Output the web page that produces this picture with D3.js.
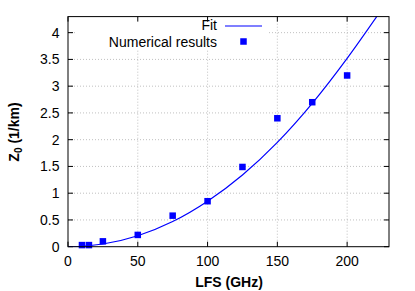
<!DOCTYPE html>
<html>
<head>
<meta charset="utf-8">
<script src="https://cdn.jsdelivr.net/npm/d3@7"></script>
<style>
  body { margin: 0; background: #fff; }
  text { font-family: "Liberation Sans", Arial, sans-serif; }
</style>
</head>
<body>
<div id="chart"></div>
<script>
// Numerical results (LFS in GHz, Z0 in 1/km)
const lfs = [10, 15, 25, 50, 75, 100, 125, 150, 175, 200];
const z0 = [0.03, 0.03, 0.10, 0.22, 0.58, 0.85, 1.49, 2.40, 2.70, 3.20];

// Fit curve
const fitX = [0, 10, 25, 50, 75, 100, 125, 150, 175, 200, 222];
const fitY = [0, 0.008, 0.05, 0.205, 0.47, 0.85, 1.34, 1.95, 2.68, 3.52, 4.33];

const xTicks = [0, 50, 100, 150, 200];
const yTicks = [0, 0.5, 1, 1.5, 2, 2.5, 3, 3.5, 4];

const width = 415, height = 291;
const plotL = 68, plotR = 389, plotT = 16.6, plotB = 246.7;
const fs = 14;

const svg = d3.select("#chart").append("svg")
  .attr("width", width)
  .attr("height", height);

const x = d3.scaleLinear().domain([0, 230]).range([plotL, plotR]);
const y = d3.scaleLinear().domain([0, 4.3]).range([plotB, plotT]);

// Grid lines (dotted)
const grid = svg.append("g")
  .attr("stroke", "#b0b0b0")
  .attr("stroke-width", 0.8)
  .attr("stroke-dasharray", "1,2");
grid.selectAll(".gx").data(xTicks.slice(1)).enter().append("line")
  .attr("x1", d => x(d)).attr("x2", d => x(d))
  .attr("y1", plotB).attr("y2", plotT);
grid.selectAll(".gy").data(yTicks.slice(1)).enter().append("line")
  .attr("x1", plotL).attr("x2", plotR)
  .attr("y1", d => y(d)).attr("y2", d => y(d));

// Key area is opaque
svg.append("rect")
  .attr("x", 76).attr("y", 18)
  .attr("width", 191).attr("height", 32)
  .attr("fill", "#fff");

// Ticks on all four sides, pointing inwards
const tl = 5;
const ticks = svg.append("g").attr("stroke", "#000").attr("stroke-width", 1);
xTicks.forEach(d => {
  ticks.append("line").attr("x1", x(d)).attr("x2", x(d)).attr("y1", plotB).attr("y2", plotB - tl);
  ticks.append("line").attr("x1", x(d)).attr("x2", x(d)).attr("y1", plotT).attr("y2", plotT + tl);
});
yTicks.forEach(d => {
  ticks.append("line").attr("x1", plotL).attr("x2", plotL + tl).attr("y1", y(d)).attr("y2", y(d));
  ticks.append("line").attr("x1", plotR).attr("x2", plotR - tl).attr("y1", y(d)).attr("y2", y(d));
});

// Tick labels
svg.selectAll(".xl").data(xTicks).enter().append("text")
  .attr("x", d => x(d)).attr("y", 265.5)
  .attr("text-anchor", "middle")
  .attr("font-size", fs)
  .text(d => d);
svg.selectAll(".yl").data(yTicks).enter().append("text")
  .attr("x", 59.5).attr("y", d => y(d) + 5)
  .attr("text-anchor", "end")
  .attr("font-size", fs)
  .text(d => d);

// Clip for the fit line
svg.append("clipPath").attr("id", "clip")
  .append("rect").attr("x", plotL).attr("y", plotT)
  .attr("width", plotR - plotL).attr("height", plotB - plotT);

const line = d3.line()
  .x(d => x(d[0]))
  .y(d => y(d[1]))
  .curve(d3.curveMonotoneX);

svg.append("path")
  .datum(fitX.map((v, i) => [v, fitY[i]]))
  .attr("clip-path", "url(#clip)")
  .attr("d", line)
  .attr("fill", "none")
  .attr("stroke", "#0000ff")
  .attr("stroke-width", 1.2);

// Data squares
const s = 6.5;
svg.selectAll(".pt").data(lfs).enter().append("rect")
  .attr("x", d => x(d) - s / 2)
  .attr("y", (d, i) => y(z0[i]) - s / 2)
  .attr("width", s).attr("height", s)
  .attr("fill", "#0000ff");

// Border
svg.append("rect")
  .attr("x", plotL).attr("y", plotT)
  .attr("width", plotR - plotL).attr("height", plotB - plotT)
  .attr("fill", "none")
  .attr("stroke", "#000")
  .attr("stroke-width", 1);

// Key
svg.append("text").attr("x", 217).attr("y", 30)
  .attr("text-anchor", "end").attr("font-size", fs).text("Fit");
svg.append("line").attr("x1", 225).attr("x2", 262).attr("y1", 26).attr("y2", 26)
  .attr("stroke", "#0000ff").attr("stroke-width", 1.2);
svg.append("text").attr("x", 217).attr("y", 46.5)
  .attr("text-anchor", "end").attr("font-size", fs).text("Numerical results");
svg.append("rect").attr("x", 243.5 - s / 2).attr("y", 41.5 - s / 2)
  .attr("width", s).attr("height", s).attr("fill", "#0000ff");

// Axis labels
svg.append("text")
  .attr("x", 229).attr("y", 286.5)
  .attr("text-anchor", "middle")
  .attr("font-size", fs).attr("font-weight", "bold")
  .text("LFS (GHz)");

const yl = svg.append("text")
  .attr("transform", "translate(18.5,132) rotate(-90)")
  .attr("text-anchor", "middle")
  .attr("font-size", fs).attr("font-weight", "bold");
yl.append("tspan").text("Z");
yl.append("tspan").attr("dy", 3.5).attr("font-size", 10).text("0");
yl.append("tspan").attr("dy", -3.5).text(" (1/km)");
</script>
</body>
</html>
